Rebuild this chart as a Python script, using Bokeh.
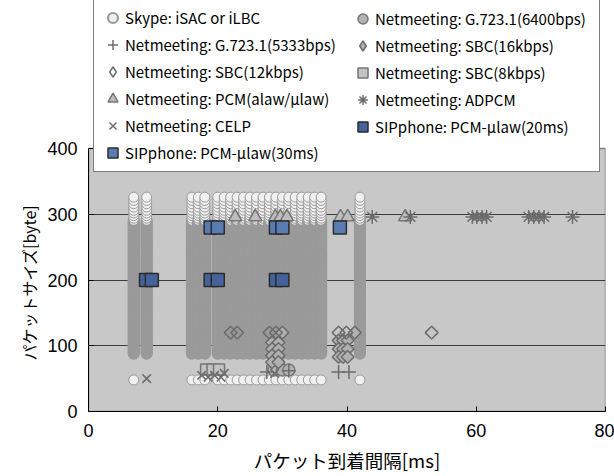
import numpy as np
from bokeh.plotting import figure
from bokeh.models import (Range1d, Legend, LegendItem, FixedTicker, ColumnDataSource,
                          Title)
from bokeh.embed import file_html
from bokeh.resources import INLINE

# ---------------- data ----------------
skype_intervals = [7, 9, 16, 17, 18, 20, 21, 22, 23, 24, 25, 26, 27, 28, 29, 30,
                   31, 32, 33, 34, 35, 36, 42]
skype_sizes = [88, 90, 92, 94, 96, 98, 100, 102, 104, 106, 108, 110, 112, 114, 116,
               118, 120, 122, 124, 126, 128, 130, 132, 134, 136, 138, 140, 142, 144,
               146, 148, 150, 152, 154, 156, 158, 160, 162, 164, 166, 168, 170, 172,
               174, 176, 178, 180, 182, 184, 186, 188, 190, 192, 194, 196, 198, 200,
               202, 204, 206, 208, 210, 212, 214, 216, 218, 220, 222, 224, 226, 228,
               230, 232, 234, 236, 238, 240, 242, 244, 246, 248, 250, 252, 254, 256,
               258, 260, 262, 264, 266, 268, 270, 272, 274, 276, 278, 280, 282, 284,
               286, 288, 290, 294, 298, 302, 306, 311, 316, 321, 326]
skype_small_intervals = [7, 16, 17, 18, 20, 21, 22, 23, 24, 25, 26, 27, 28, 29, 30,
                         31, 32, 33, 34, 35, 36, 42]
skype_small_size = 48

g723_6400_x = [28.7, 30.0, 31.0]
g723_6400_y = [63, 63, 63]

g723_5333_x = [27.6, 31.0, 38.7, 40.3]
g723_5333_y = [60, 62, 60, 60]

sbc16_x = [30.0, 28.4, 29.4, 28.4, 29.4, 28.4, 29.4, 28.4, 29.4,
           41.2, 38.7, 39.4, 40.1, 38.7, 39.4, 40.1, 38.7, 39.4, 40.1]
sbc16_y = [120, 105, 105, 95, 95, 85, 85, 75, 75,
           120, 108, 108, 108, 95, 95, 95, 83, 83, 83]

sbc12_x = [22.0, 23.0, 28.0, 29.0, 38.7, 39.9, 53.1]
sbc12_y = [120, 120, 120, 120, 120, 120, 120]

sbc8_x = [18.2, 19.2, 20.2]
sbc8_y = [64, 64, 64]

pcm_x = [22.7, 25.8, 28.9, 29.7, 30.7, 39.0, 40.1, 49.0]
pcm_y = [296, 296, 296, 296, 296, 296, 296, 296]

adpcm_x = [43.9, 49.8, 59.4, 60.1, 60.9, 61.6, 68.1, 68.9, 69.7, 70.5, 74.9]
adpcm_y = [296, 296, 296, 296, 296, 296, 296, 296, 296, 296, 296]

celp_x = [9.0, 17.5, 18.5, 19.5, 20.5, 21.0, 28.8]
celp_y = [50, 55, 52, 55, 52, 58, 58]

sip20_x = [8.9, 9.8, 18.9, 20.0, 29.0, 30.0]
sip20_y = [200, 200, 200, 200, 200, 200]

sip30_x = [18.9, 20.0, 29.0, 30.0, 38.9]
sip30_y = [280, 280, 280, 280, 280]

labels = ["Skype: iSAC or iLBC",
          "Netmeeting: G.723.1(6400bps)",
          "Netmeeting: G.723.1(5333bps)",
          "Netmeeting: SBC(16kbps)",
          "Netmeeting: SBC(12kbps)",
          "Netmeeting: SBC(8kbps)",
          "Netmeeting: PCM(alaw/μlaw)",
          "Netmeeting: ADPCM",
          "Netmeeting: CELP",
          "SIPphone: PCM-μlaw(20ms)",
          "SIPphone: PCM-μlaw(30ms)"]

x_min, x_max = 0, 80
y_min, y_max = 0, 400
x_ticks = [0, 20, 40, 60, 80]
y_ticks = [0, 100, 200, 300, 400]
grid_ticks = [100, 200, 300]
x_title = "パケット到着間隔[ms]"
y_title = "パケットサイズ[byte]"

# ---------------- layout ----------------
FONT = "Noto Sans CJK JP"
NUM_FONT = "Liberation Sans"
FIG_W, FIG_H = 614, 476
FRAME_BOTTOM = 411          # px from top of figure
PLOT_TOP = 148              # px where y=400 sits
# the frame reaches the top of the figure so that the legend can overlap the
# plot area; the visible (grey) plot area is drawn as a quad up to y_max
view_top = y_max * FRAME_BOTTOM / (FRAME_BOTTOM - PLOT_TOP)

p = figure(width=FIG_W, height=FIG_H, output_backend="svg", toolbar_location=None,
           x_range=Range1d(x_min, x_max), y_range=Range1d(y_min, view_top),
           min_border_left=88, min_border_right=9, min_border_top=0,
           min_border_bottom=FIG_H - FRAME_BOTTOM)
p.background_fill_color = "white"
p.border_fill_color = "white"
p.outline_line_color = None

p.quad(left=[x_min], right=[x_max], bottom=[y_min], top=[y_max],
       fill_color="#c8c8c8", line_color="#808080", line_width=1.5, level="image")

p.xgrid.visible = False
p.ygrid.ticker = FixedTicker(ticks=grid_ticks)
p.ygrid.grid_line_color = "#3c3c3c"
p.ygrid.grid_line_width = 1

p.xaxis.ticker = FixedTicker(ticks=x_ticks)
p.yaxis.ticker = FixedTicker(ticks=y_ticks)
p.yaxis.bounds = (y_min, y_max)
for ax in (p.xaxis[0], p.yaxis[0]):
    ax.axis_line_color = "#000000"
    ax.axis_line_width = 1
    ax.major_tick_in = 5
    ax.major_tick_out = 0
    ax.major_tick_line_color = "#000000"
    ax.minor_tick_line_color = None
    ax.major_label_text_font = NUM_FONT
    ax.major_label_text_font_size = "18px"
    ax.major_label_text_color = "#000000"
p.xaxis.axis_label = x_title
p.xaxis.axis_label_text_font = FONT
p.xaxis.axis_label_text_font_style = "normal"
p.xaxis.axis_label_text_color = "#000000"
p.xaxis.axis_label_text_font_size = "18.5px"
p.xaxis.major_label_standoff = 12
p.yaxis.major_label_standoff = 11
p.xaxis.axis_label_standoff = 7

# y title placed along the 0-400 part of the axis
ytitle = Title(text=y_title, align="left", offset=51, standoff=8,
               text_font=FONT, text_font_size="16px", text_font_style="normal",
               text_color="#000000")
p.add_layout(ytitle, "left")

# ---------------- series ----------------
sx = [x for x in skype_intervals for s in skype_sizes]
sy = [s for x in skype_intervals for s in skype_sizes]
sx += skype_small_intervals
sy += [skype_small_size] * len(skype_small_intervals)
slw = [2.2 if 80 < s <= 290 else 1.0 for s in sy]
skype_src = ColumnDataSource(dict(x=sx, y=sy, lw=slw))

r_skype = p.scatter("x", "y", source=skype_src, marker="circle", size=10,
                    fill_color="#f0f0f0", line_color="#9a9a9a", line_width="lw")
r_6400 = p.scatter(g723_6400_x, g723_6400_y, marker="circle", size=12,
                   fill_color="#b2b2b2", line_color="#767676", line_width=1.5)
r_5333 = p.scatter(g723_5333_x, g723_5333_y, marker="cross", size=14,
                   line_color="#6c6c6c", line_width=1.5)
r_sbc16 = p.scatter(sbc16_x, sbc16_y, marker="square", angle=np.pi / 4, size=9,
                    fill_color="#b0b0b0", line_color="#6c6c6c", line_width=1.5)
r_sbc12 = p.scatter(sbc12_x, sbc12_y, marker="square", angle=np.pi / 4, size=9,
                    fill_color=None, line_color="#6c6c6c", line_width=1.5)
r_sbc8 = p.scatter(sbc8_x, sbc8_y, marker="square", size=11,
                   fill_color="#c2c2c2", line_color="#767676", line_width=1.5)
r_pcm = p.scatter(pcm_x, pcm_y, marker="triangle", size=13,
                  fill_color="#bdbdbd", line_color="#767676", line_width=1.5)
r_adpcm = p.scatter(adpcm_x, adpcm_y, marker="asterisk", size=14,
                    line_color="#6c6c6c", line_width=1.5)
r_celp = p.scatter(celp_x, celp_y, marker="x", size=12,
                   line_color="#6c6c6c", line_width=1.5)
r_sip20 = p.scatter(sip20_x, sip20_y, marker="square", size=13,
                    fill_color="#44639a", line_color="#2b2b2b", line_width=1.5)
r_sip30 = p.scatter(sip30_x, sip30_y, marker="square", size=13,
                    fill_color="#5a7cb2", line_color="#2b2b2b", line_width=1.5)

# hidden proxies: legend glyphs are drawn unrotated, so show diamonds there
lg_sbc16 = p.scatter(sbc16_x, sbc16_y, marker="diamond", size=10,
                     fill_color="#b0b0b0", line_color="#6c6c6c", line_width=1.5,
                     visible=False)
lg_sbc12 = p.scatter(sbc12_x, sbc12_y, marker="diamond", size=10,
                     fill_color=None, line_color="#6c6c6c", line_width=1.5,
                     visible=False)

col1 = [(labels[0], r_skype), (labels[2], r_5333), (labels[4], lg_sbc12),
        (labels[6], r_pcm), (labels[8], r_celp), (labels[10], r_sip30)]
col2 = [(labels[1], r_6400), (labels[3], lg_sbc16), (labels[5], r_sbc8),
        (labels[7], r_adpcm), (labels[9], r_sip20)]


def make_legend(items, loc, framed, label_width):
    lg = Legend(items=[LegendItem(label=t, renderers=[r]) for t, r in items],
                location=loc, orientation="vertical")
    lg.glyph_width = 25
    lg.glyph_height = 25
    lg.label_height = 25
    lg.label_width = label_width
    lg.spacing = 2
    lg.padding = 6
    lg.margin = 0
    lg.label_standoff = 0
    lg.inactive_fill_alpha = 0.0
    lg.label_text_font = FONT
    lg.label_text_font_size = "15px"
    lg.label_text_color = "#000000"
    if framed:
        lg.background_fill_color = "white"
        lg.background_fill_alpha = 1.0
        lg.border_line_color = "#000000"
        lg.border_line_width = 1
    else:
        lg.background_fill_alpha = 0.0
        lg.border_line_color = None
    return lg


# location = bottom-left corner of each legend box (px from the frame's bottom-left)
p.add_layout(make_legend(col1, (5, 239), True, 468))
p.add_layout(make_legend(col2, (262, 272), False, 20))

open("out.html", "w").write(file_html(p, INLINE))
